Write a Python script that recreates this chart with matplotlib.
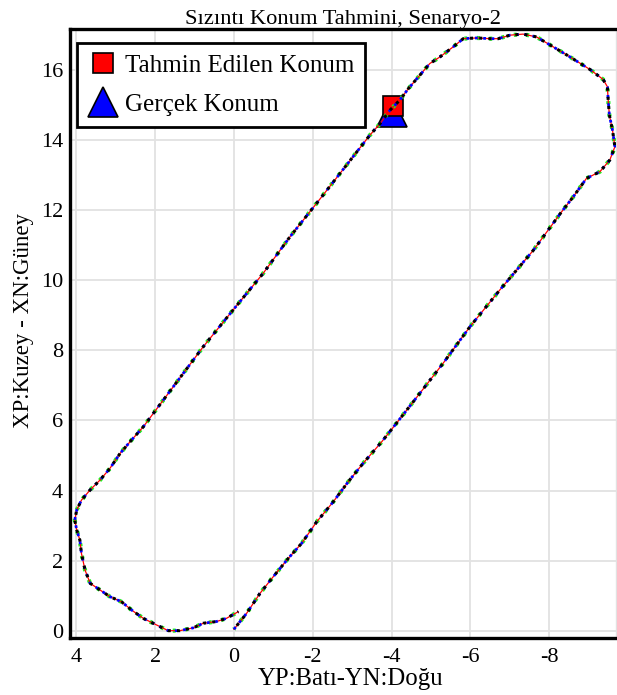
import matplotlib
matplotlib.use("Agg")
import matplotlib.pyplot as plt
from matplotlib.lines import Line2D

plt.rcParams['font.family'] = ['Liberation Serif', 'DejaVu Serif']
plt.rcParams['axes.unicode_minus'] = False

# izlenen yol (Y: doğu-batı, X: kuzey-güney), metre
yol_y = [0.00, -0.32, -0.66, -1.00, -1.38, -1.72, -2.10, -2.52, -2.90, -3.28,
         -3.75, -4.09, -4.55, -5.31, -5.99, -6.75, -7.60, -8.30, -8.61, -8.95,
         -9.29, -9.54, -9.67, -9.61, -9.53, -9.50, -9.48, -9.37, -9.04, -8.53,
         -8.10, -7.68, -7.34, -7.01, -6.71, -6.50, -6.16, -5.82, -5.57, -5.23,
         -4.97, -4.72, -4.43, -4.21, -3.96, -3.71, -3.45, -2.86, -2.10, -1.42,
         -0.74, 0.02, 0.78, 1.54, 2.30, 2.60, 2.89, 3.15, 3.40, 3.65,
         3.87, 3.99, 4.04, 3.99, 3.91, 3.87, 3.78, 3.65, 3.40, 3.15,
         2.85, 2.60, 2.30, 1.96, 1.67, 1.37, 1.03, 0.78, 0.44, 0.19,
         -0.11]
yol_x = [0.05, 0.50, 1.07, 1.55, 2.07, 2.50, 3.11, 3.68, 4.25, 4.78,
         5.39, 5.87, 6.53, 7.63, 8.67, 9.72, 10.85, 11.92, 12.37, 12.90,
         13.09, 13.42, 13.80, 14.27, 14.70, 15.13, 15.51, 15.72, 16.00, 16.36,
         16.65, 16.93, 17.01, 16.98, 16.88, 16.88, 16.90, 16.88, 16.65, 16.36,
         16.17, 15.84, 15.46, 15.13, 14.84, 14.46, 14.13, 13.28, 12.19, 11.23,
         10.19, 9.15, 8.10, 6.96, 5.82, 5.44, 5.06, 4.63, 4.30, 4.02,
         3.73, 3.45, 3.16, 2.88, 2.59, 2.21, 1.74, 1.36, 1.17, 0.98,
         0.83, 0.60, 0.36, 0.17, 0.01, 0.01, 0.09, 0.22, 0.27, 0.36,
         0.55]

gercek_konum = (-4.00, 14.80)
tahmin_konum = (-4.05, 14.95)

x_ticks = [4, 2, 0, -2, -4, -6, -8]
y_ticks = [0, 2, 4, 6, 8, 10, 12, 14, 16]

fig = plt.figure(figsize=(6.17, 6.95), dpi=100)
ax = fig.add_axes([0.1135, 0.082, 0.885, 0.876])

# konum işaretleri
ax.plot(gercek_konum[0], gercek_konum[1], '^', color='blue', mec='black',
        mew=1.2, ms=22, zorder=3)
ax.plot(tahmin_konum[0], tahmin_konum[1], 's', color='red', mec='black',
        mew=1.2, ms=15, zorder=4)

# yol: üst üste binen noktalı çizgiler
ax.plot(yol_y, yol_x, color='#22ee22', lw=3.0, ls=(0.5, (0.7, 2.3)), zorder=5)
ax.plot(yol_y, yol_x, color='red', lw=0.9, zorder=6)
ax.plot(yol_y, yol_x, color='blue', lw=2.0, ls=(0, (1.0, 2.0)), zorder=7)
ax.plot(yol_y, yol_x, color='black', lw=2.2, ls=(1.5, (1.0, 2.0)), zorder=8)

ax.set_xlim(4.16, -9.7)
ax.set_ylim(-0.2, 17.15)
ax.set_xticks(x_ticks)
ax.set_yticks(y_ticks)
ax.tick_params(length=0, labelsize=16)
ax.tick_params(axis='x', pad=7)
ax.tick_params(axis='y', pad=5)
ax.grid(True, color='#e2e2e2', lw=1.3)
ax.set_axisbelow(True)

for s in ['left', 'bottom', 'top']:
    ax.spines[s].set_linewidth(2.4)
    ax.spines[s].set_color('black')
ax.spines['right'].set_color('#e2e2e2')
ax.spines['right'].set_linewidth(1.0)

ax.set_title('Sızıntı Konum Tahmini, Senaryo-2', fontsize=16.2, pad=4)
ax.set_xlabel('YP:Batı-YN:Doğu', fontsize=17.8, labelpad=0)
ax.set_ylabel('XP:Kuzey - XN:Güney', fontsize=16.5)
ax.xaxis.set_label_coords(0.513, -0.05)
ax.yaxis.set_label_coords(-0.066, 0.522)

handles = [
    Line2D([], [], ls='none', marker='s', color='red', mec='black', mew=1.2, ms=15),
    Line2D([], [], ls='none', marker='^', color='blue', mec='black', mew=1.2, ms=22),
]
leg = ax.legend(handles, ['Tahmin Edilen Konum', 'Gerçek Konum'],
                loc='upper left', bbox_to_anchor=(0.0128, 0.977),
                borderaxespad=0, fontsize=18, fancybox=False, framealpha=1,
                edgecolor='black', handletextpad=0.25, labelspacing=0.65,
                borderpad=0.45, handlelength=1.2)
leg.get_frame().set_linewidth(2.0)

fig.savefig('out.png', dpi=100)
